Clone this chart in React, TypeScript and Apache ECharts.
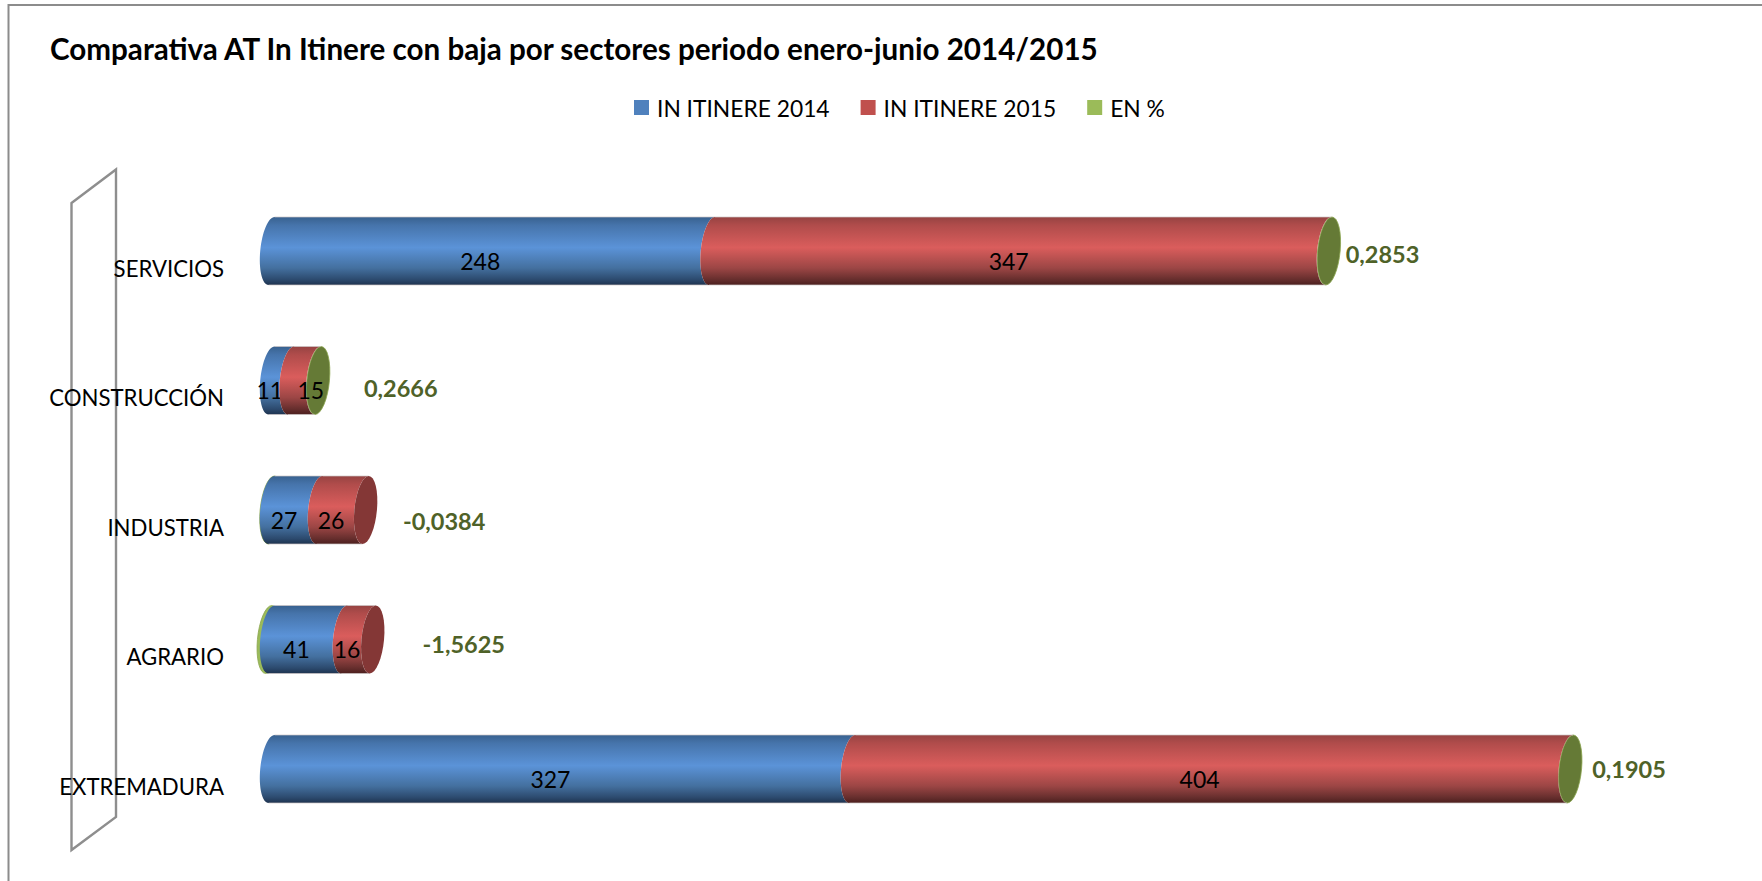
import React, { useEffect, useRef } from "react";
import * as echarts from "echarts";

const categories = ["SERVICIOS", "CONSTRUCCIÓN", "INDUSTRIA", "AGRARIO", "EXTREMADURA"];
const itinere2014 = [248, 11, 27, 41, 327];
const itinere2015 = [347, 15, 26, 16, 404];
const enPorcentaje = [0.2853, 0.2666, -0.0384, -1.5625, 0.1905];
const seriesNames = ["IN ITINERE 2014", "IN ITINERE 2015", "EN %"];

// Hand-placed label nudges of the original chart (pixels from the default place)
const pctLabelDx = [6, 35, 26, 38.5, 11];
const pctLabelDy = [3, 7, 11, 4.5, 0];
const label2015Dx = [0, 18, 0, 0, 0];

const FONT = "Lato, 'Open Sans', sans-serif";
const BAR_RATIO = 0.525;
const RX = 11.3;
const SHEAR = 0.09;
const RIM = "rgba(205,198,198,0.7)";

const blueFill = new echarts.graphic.LinearGradient(0, 0, 0, 1, [
  { offset: 0, color: "#38618f" },
  { offset: 0.12, color: "#4674ab" },
  { offset: 0.45, color: "#5b93d8" },
  { offset: 0.75, color: "#44709f" },
  { offset: 0.92, color: "#2c4a6e" },
  { offset: 1, color: "#1e334f" },
]);
const redFill = new echarts.graphic.LinearGradient(0, 0, 0, 1, [
  { offset: 0, color: "#964342" },
  { offset: 0.12, color: "#b04c4b" },
  { offset: 0.45, color: "#da5d5c" },
  { offset: 0.75, color: "#9c4645" },
  { offset: 0.92, color: "#662e2d" },
  { offset: 1, color: "#4c1f1e" },
]);

function arcPoints(cx: number, cy: number, ry: number, from: number, to: number) {
  const pts: number[][] = [];
  const n = 32;
  for (let i = 0; i <= n; i++) {
    const a = from + ((to - from) * i) / n;
    const dy = Math.sin(a) * ry;
    pts.push([cx + Math.cos(a) * RX - dy * SHEAR, cy + dy]);
  }
  return pts;
}

function cylinderItem(fill: any, capColor: string | null, labelDx: number[]) {
  return (params: any, api: any) => {
    const i = params.dataIndex;
    const cat = api.value(2);
    const [x0, cy] = api.coord([api.value(0), cat]);
    const [x1] = api.coord([api.value(1), cat]);
    const ry = (api.size([0, 1])[1] * BAR_RATIO) / 2;
    // left end bulges to the left; right end is hollowed so that what stands behind it shows
    const leftEnd = arcPoints(x0, cy, ry, Math.PI * 1.5, Math.PI * 0.5);
    const rightEnd = arcPoints(x1, cy, ry, Math.PI * 0.5, Math.PI * 1.5);
    const children: any[] = [
      {
        type: "polygon",
        shape: { points: [...leftEnd, ...rightEnd] },
        style: { fill },
      },
      {
        type: "line",
        shape: { x1: leftEnd[0][0], y1: cy - ry, x2: rightEnd[32][0], y2: cy - ry },
        style: { stroke: RIM, lineWidth: 1 },
      },
      {
        type: "line",
        shape: { x1: leftEnd[32][0], y1: cy + ry, x2: rightEnd[0][0], y2: cy + ry },
        style: { stroke: RIM, lineWidth: 1 },
      },
    ];
    if (capColor && api.value(3) < 0) {
      children.push({
        type: "polygon",
        shape: { points: arcPoints(x1, cy, ry, 0, Math.PI * 2) },
        style: { fill: capColor },
      });
    }
    children.push({
      type: "text",
      style: {
        x: (x0 + x1) / 2 - 11.5 + labelDx[i],
        y: cy + 9.5,
        text: String(api.value(1) - api.value(0)),
        fill: "#000",
        font: `23px ${FONT}`,
        align: "center",
        verticalAlign: "middle",
      },
    });
    return { type: "group", children };
  };
}

function discItem(params: any, api: any) {
  const i = params.dataIndex;
  const cat = api.value(2);
  const [x, cy] = api.coord([api.value(1), cat]);
  const [xTot] = api.coord([api.value(3), cat]);
  const ry = (api.size([0, 1])[1] * BAR_RATIO) / 2;
  const negative = enPorcentaje[i] < 0;
  return {
    type: "group",
    children: [
      {
        type: "polygon",
        shape: { points: arcPoints(x, cy, ry, 0, Math.PI * 2) },
        style: { fill: negative ? "#9bbb59" : "#657a36", stroke: "#8aa44e", lineWidth: 0.8 },
      },
      {
        type: "text",
        style: {
          x: xTot + RX + pctLabelDx[i],
          y: cy + pctLabelDy[i],
          text: enPorcentaje[i].toFixed(4).replace(".", ","),
          fill: "#4f6228",
          font: `bold 23.5px ${FONT}`,
          align: "left",
          verticalAlign: "middle",
        },
      },
    ],
  };
}

const totals = itinere2014.map((v, i) => v + itinere2015[i]);
const blueData = itinere2014.map((v, i) => [0, v, i, enPorcentaje[i]]);
const redData = itinere2015.map((v, i) => [itinere2014[i], totals[i], i, enPorcentaje[i]]);
const greenData = enPorcentaje.map((v, i) =>
  v < 0 ? [0, v, i, totals[i]] : [totals[i], totals[i] + v, i, totals[i]]
);

export default function App() {
  const ref = useRef<HTMLDivElement>(null);
  useEffect(() => {
    document.body.style.margin = "0";
    const chart = echarts.init(ref.current!, undefined, { renderer: "svg" });
    chart.setOption({
      animation: false,
      backgroundColor: "#fff",
      textStyle: { fontFamily: FONT },
      title: {
        text: "Comparativa AT In Itinere con baja por sectores periodo enero-junio 2014/2015",
        left: 45,
        top: 28,
        textStyle: { fontFamily: FONT, fontWeight: "bold", fontSize: 29.6, color: "#000" },
      },
      legend: {
        left: 629,
        top: 91,
        icon: "rect",
        itemWidth: 15,
        itemHeight: 15,
        itemGap: 31,
        data: seriesNames,
        textStyle: { fontFamily: FONT, fontSize: 22.8, color: "#000", padding: [0, 0, 0, 3] },
      },
      grid: { left: 271.5, top: 186.25, width: 1421, height: 647.5, containLabel: false },
      xAxis: { type: "value", min: 0, max: 800, show: false },
      yAxis: {
        type: "category",
        inverse: true,
        data: categories,
        axisLine: { show: false },
        axisTick: { show: false },
        axisLabel: {
          margin: 47.5,
          fontFamily: FONT,
          fontSize: 22.2,
          color: "#000",
          verticalAlign: "top",
          lineHeight: 34,
        },
      },
      graphic: [
        {
          type: "polyline",
          silent: true,
          shape: { points: [[8.5, 881], [8.5, 5], [1762, 5]] },
          style: { stroke: "#8c8c8c", lineWidth: 2, fill: "none" },
        },
        {
          type: "polygon",
          silent: true,
          shape: { points: [[71.5, 203], [116, 169.5], [116, 817], [71.5, 850]] },
          style: { stroke: "#8e8e8e", lineWidth: 2.4, fill: "none" },
        },
      ],
      series: [
        {
          name: seriesNames[2],
          type: "custom",
          z: 2,
          itemStyle: { color: "#9bbb59" },
          data: greenData,
          renderItem: discItem,
        },
        {
          name: seriesNames[0],
          type: "custom",
          z: 3,
          itemStyle: { color: "#4f81bd" },
          data: blueData,
          renderItem: cylinderItem(blueFill, null, [0, 0, 0, 0, 0]),
        },
        {
          name: seriesNames[1],
          type: "custom",
          z: 4,
          itemStyle: { color: "#c0504d" },
          data: redData,
          renderItem: cylinderItem(redFill, "#843736", label2015Dx),
        },
      ],
    });
    return () => chart.dispose();
  }, []);
  return <div ref={ref} style={{ position: "fixed", left: 0, top: 0, width: 1762, height: 881 }} />;
}
